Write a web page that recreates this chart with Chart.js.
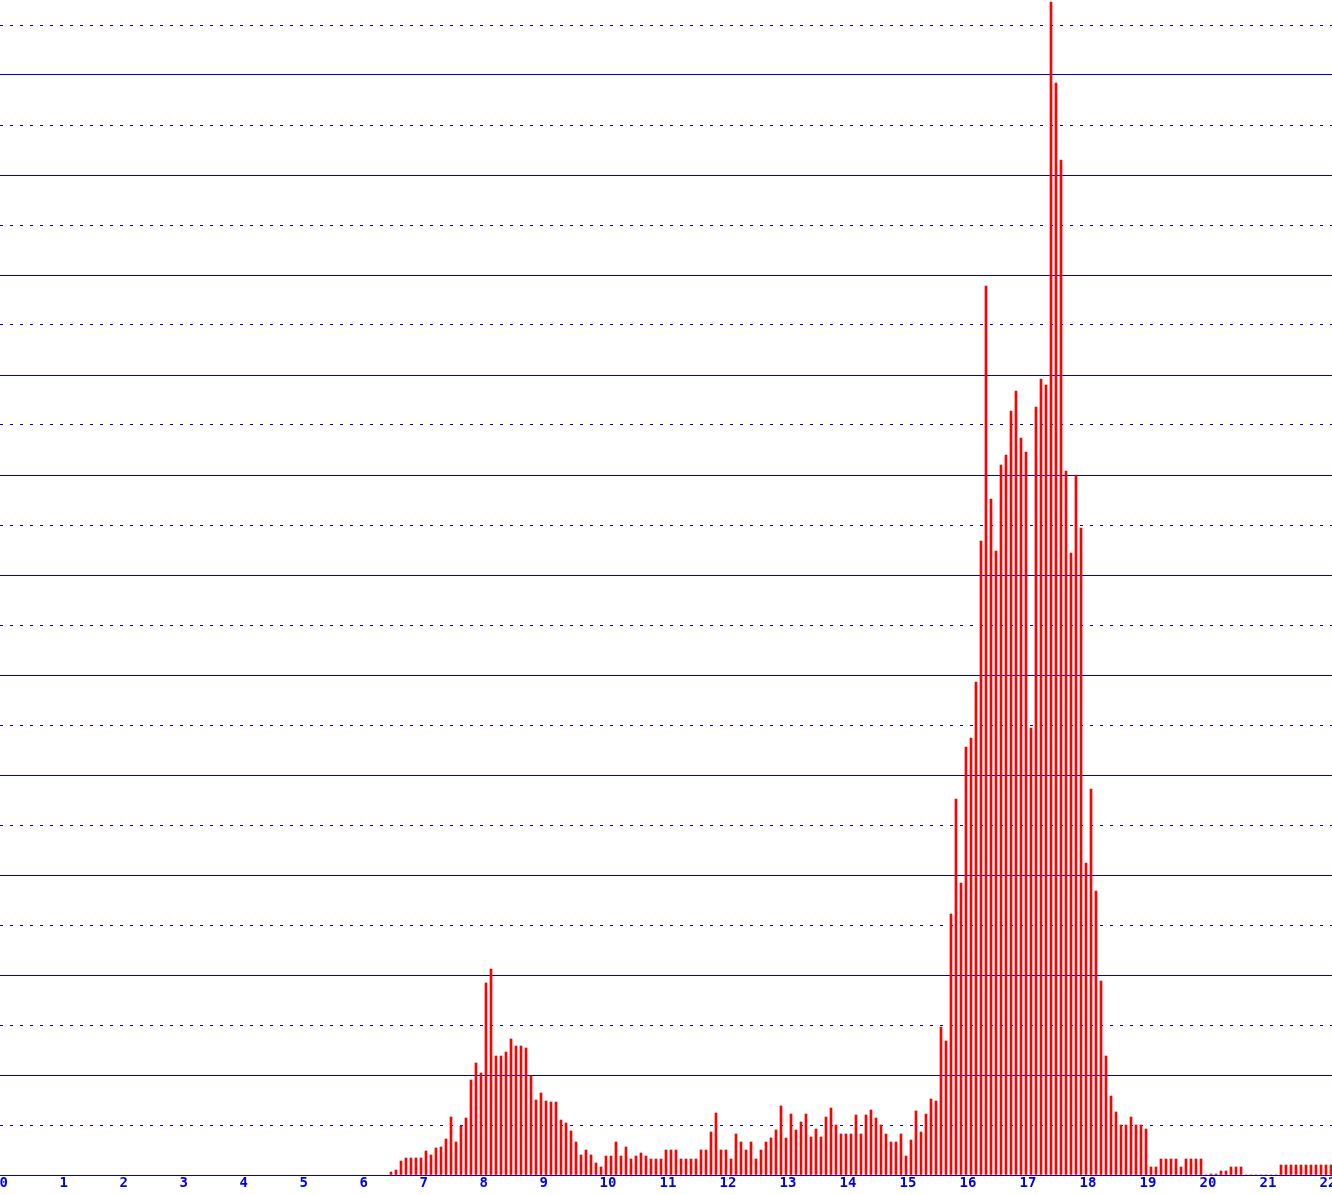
<!DOCTYPE html>
<html>
<head>
<meta charset="utf-8">
<title>Histogram</title>
<script src="https://cdn.jsdelivr.net/npm/chart.js@4.4.1/dist/chart.umd.min.js"></script>
<style>
    html, body { margin: 0; padding: 0; background: #ffffff; overflow: hidden; }
    #chart-wrap { width: 1332px; height: 1195px; }
</style>
</head>
<body>
<div id="chart-wrap"><canvas id="histogram-chart" width="1332" height="1195"></canvas></div>
<script>
// Histogram: 12 bins per unit, first drawn bin is bin 77 (6 5/12 .. 6 6/12)
var binsPerUnit = 12;
var firstBin = 77;

// Bar heights, one row per unit on the x axis
var counts = [
    0.06, 0.10, 0.28, 0.34, 0.34, 0.34, 0.34,                                  // 6
    0.48, 0.40, 0.54, 0.56, 0.72, 1.16, 0.66, 0.98, 1.14, 1.90, 2.24, 2.04,      // 7
    3.84, 4.12, 2.38, 2.38, 2.46, 2.72, 2.58, 2.58, 2.54, 1.98, 1.50, 1.64,      // 8
    1.48, 1.46, 1.46, 1.10, 1.04, 0.88, 0.66, 0.40, 0.50, 0.40, 0.24, 0.16,      // 9
    0.38, 0.38, 0.66, 0.38, 0.56, 0.32, 0.38, 0.44, 0.38, 0.32, 0.32, 0.32,      // 10
    0.50, 0.50, 0.50, 0.32, 0.32, 0.32, 0.32, 0.50, 0.50, 0.86, 1.24, 0.50,      // 11
    0.50, 0.32, 0.82, 0.66, 0.50, 0.66, 0.32, 0.50, 0.66, 0.74, 0.90, 1.38,      // 12
    0.74, 1.22, 0.90, 1.06, 1.22, 0.76, 0.92, 0.76, 1.16, 1.34, 1.00, 0.82,      // 13
    0.82, 0.82, 1.20, 0.82, 1.20, 1.30, 1.14, 1.00, 0.82, 0.66, 0.66, 0.82,      // 14
    0.38, 0.70, 1.28, 0.86, 1.22, 1.52, 1.48, 2.96, 2.68, 5.22, 7.52, 5.84,      // 15
    8.56, 8.74, 9.86, 12.68, 17.78, 13.52, 12.48, 14.20, 14.40, 15.28, 15.68, 14.74, // 16
    14.46, 8.94, 15.36, 15.92, 15.80, 23.46, 21.84, 20.30, 14.08, 12.44, 14.00, 12.94, // 17
    6.24, 7.72, 5.68, 3.88, 2.38, 1.58, 1.26, 1.00, 1.00, 1.16, 1.00, 1.00,      // 18
    0.92, 0.16, 0.16, 0.32, 0.32, 0.32, 0.32, 0.16, 0.32, 0.32, 0.32, 0.32,      // 19
    0, 0.02, 0.02, 0.08, 0.08, 0.16, 0.16, 0.16, 0, 0, 0, 0,                      // 20
    0, 0, 0, 0.20, 0.20, 0.20, 0.20, 0.20, 0.20, 0.20, 0.20, 0.20,               // 21
    0.20, 0.20                                                                    // 22
];

// Tick labels along the bottom
var xTickValues = [0, 1, 2, 3, 4, 5, 6, 7, 8, 9, 10, 11, 12, 13, 14, 15, 16, 17, 18, 19, 20, 21, 22];

var gridBlue = '#0000cc';
var labelBlue = '#0000ee';

document.addEventListener('DOMContentLoaded', function() {
    var points = counts.map(function(c, i) {
        return { x: (firstBin + i + 0.5) / binsPerUnit, y: c };
    });

    var ctx = document.getElementById('histogram-chart').getContext('2d');
    var histogramChart = new Chart(ctx, {
        type: 'bar',
        data: {
            datasets: [{
                data: points,
                backgroundColor: '#ff0000',
                borderWidth: 0,
                barThickness: 2
            }]
        },
        options: {
            responsive: false,
            animation: false,
            layout: { padding: 0 },
            plugins: {
                legend: { display: false },
                tooltip: { enabled: false }
            },
            scales: {
                x: {
                    type: 'linear',
                    offset: false,
                    min: -0.0583333,
                    max: 22.1416667,
                    grid: { display: false, drawTicks: false, offset: false },
                    border: { display: false },
                    ticks: {
                        color: labelBlue,
                        font: { family: 'DejaVu Sans Mono', size: 14, weight: 'bold' },
                        padding: 0,
                        align: 'start',
                        labelOffset: -4,
                        maxRotation: 0,
                        autoSkip: false
                    },
                    afterBuildTicks: function(scale) {
                        scale.ticks = xTickValues.map(function(v) { return { value: v }; });
                    },
                    afterFit: function(scale) {
                        scale.paddingLeft = 0;
                        scale.paddingRight = 0;
                        scale.height = 20;
                    }
                },
                y: {
                    min: 0,
                    max: 23.5,
                    ticks: { display: false, stepSize: 1, includeBounds: false },
                    grid: { color: gridBlue, lineWidth: 1, drawTicks: false },
                    border: {
                        display: false,
                        // odd lines dotted, even lines solid
                        dash: function(c) {
                            return c.tick && c.tick.value % 2 ? [3, 7] : [];
                        }
                    },
                    afterFit: function(scale) {
                        scale.width = 0;
                    }
                }
            }
        }
    });
});
</script>
</body>
</html>
